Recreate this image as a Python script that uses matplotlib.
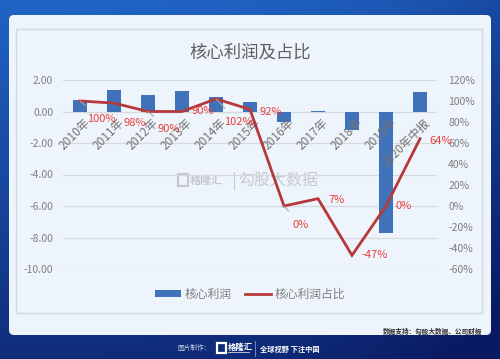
import matplotlib
matplotlib.use("Agg")
import matplotlib.pyplot as plt
import numpy as np
from matplotlib.patches import FancyBboxPatch, Rectangle

plt.rcParams['font.family'] = ['Noto Sans CJK SC', 'DejaVu Sans']

# data
years = ["2010年", "2011年", "2012年", "2013年", "2014年", "2015年",
         "2016年", "2017年", "2018年", "2019年", "2020年中报"]
profit = [0.74, 1.38, 1.06, 1.27, 0.89, 0.59, -0.68, 0.05, -1.20, -7.70, 1.23]
share = [100, 98, 90, 90, 102, 92, 0, 7, -47, 0, 64]
share_labels = ["100%", "98%", "90%", "90%", "102%", "92%", "0%", "7%", "-47%", "0%", "64%"]
# label offsets in pixels (dx right, dy down) and whether a leader line shows
offsets = [(21, 18), (21, 20), (21, 18), (21, 0), (22, 23), (21, 3),
           (17, 19), (19, 1), (23, 0), (18, 0), (21, 2)]
leaders = [True, False, True, False, True, False, True, False, False, False, False]

W, H = 500, 359
fig = plt.figure(figsize=(W / 100, H / 100), dpi=100)

# background + panel, drawn in pixel coordinates
bg = fig.add_axes([0, 0, 1, 1], zorder=-10)
bg.set_xlim(0, W)
bg.set_ylim(H, 0)
bg.axis("off")
yy, xx = np.mgrid[0:1:200j, 0:1:200j]
t = np.clip(0.75 * yy + 0.35 * xx ** 3, 0, 1)
c0 = np.array([0x20, 0x64, 0xc4]) / 255
c1 = np.array([0x0a, 0x1a, 0x62]) / 255
img = c0[None, None, :] * (1 - t[..., None]) + c1[None, None, :] * t[..., None]
bg.imshow(img, extent=(0, W, H, 0), aspect="auto", zorder=0)

bg.add_patch(FancyBboxPatch((9, 15), 482, 320, boxstyle="round,pad=0,rounding_size=5",
                            fc="#eef4fb", ec="none", zorder=1))
bg.add_patch(Rectangle((16, 29), 466, 284, fc="#eef4fb", ec="#d3d7de", lw=1, zorder=2))

bg.text(250, 52, "核心利润及占比", fontsize=12.5, color="#5f5f5f", ha="center", va="center", zorder=3)

# watermark
bg.add_patch(Rectangle((178, 174), 10, 12, fc="none", ec="#c5c9cf", lw=1.6, zorder=3))
bg.text(190, 180, "格隆汇", fontsize=8, color="#c5c9cf", ha="left", va="center", zorder=3, fontweight="bold")
bg.plot([234, 234], [172, 189], color="#c5c9cf", lw=0.8, zorder=3)
bg.text(238, 180, "勾股大数据", fontsize=11.5, color="#c5c9cf", ha="left", va="center", zorder=3)

bg.text(482, 331, "数据支持：勾股大数据、公司财报", fontsize=4.8, color="#333333",
        ha="right", va="center", fontweight="bold", zorder=3)

# footer
bg.text(211, 348, "图片制作：", fontsize=4.8, color="#c8cfe6", ha="right", va="center", zorder=3)
bg.add_patch(Rectangle((217, 343), 9, 10, fc="none", ec="white", lw=1.6, zorder=3))
bg.text(228, 347, "格隆汇", fontsize=6, color="white", ha="left", va="center", fontweight="bold", zorder=3)
bg.plot([228, 249], [352, 352], color="white", lw=0.5, zorder=3)
bg.plot([255, 255], [341, 356], color="#8a95c0", lw=0.6, zorder=3)
bg.text(260, 349, "全球视野 下注中国", fontsize=5.2, color="white", ha="left", va="center",
        fontweight="bold", zorder=3)

# chart
ax = fig.add_axes([63 / W, 1 - 269 / H, 374 / W, 189 / H])
ax.set_facecolor("none")
x = np.arange(len(years))
bars = ax.bar(x, profit, width=0.4, color="#3f72b8", label="核心利润", zorder=2)
ax.set_xlim(-0.5, len(years) - 0.5)
ax.set_ylim(-10, 2)
ax.set_yticks(np.arange(-10, 2.01, 2))
ax.set_yticklabels(["%.2f" % v for v in np.arange(-10, 2.01, 2)])
ax.yaxis.grid(True, color="#d6d9de", lw=0.9, zorder=0)
ax.set_axisbelow(True)
ax.set_xticks([])
ax.tick_params(axis="y", length=0, pad=7, labelsize=7.5, labelcolor="#7f7f7f")
for s in ax.spines.values():
    s.set_visible(False)

for i, name in enumerate(years):
    ax.text(i + 0.1, -0.3, name, rotation=45, rotation_mode="anchor", ha="right", va="top",
            fontsize=8.5, color="#737373", zorder=3)

ax2 = ax.twinx()
ax2.set_ylim(-60, 120)
ax2.set_yticks(np.arange(-60, 121, 20))
ax2.set_yticklabels(["%d%%" % v for v in np.arange(-60, 121, 20)])
ax2.tick_params(axis="y", length=0, pad=8, labelsize=7.5, labelcolor="#7f7f7f")
for s in ax2.spines.values():
    s.set_visible(False)
line, = ax2.plot(x, share, color="#b5383b", lw=2.0, label="核心利润占比", zorder=4,
                 solid_joinstyle="miter")

for i, (v, lab) in enumerate(zip(share, share_labels)):
    dx, dy = offsets[i]
    props = None
    if leaders[i]:
        props = dict(arrowstyle="-", color="#a6a6a6", lw=0.8, shrinkA=6, shrinkB=0)
    ax2.annotate(lab, xy=(i, v), xytext=(dx, -dy), textcoords="offset pixels",
                 ha="center", va="center", fontsize=8, color="#e8403d",
                 arrowprops=props, zorder=5)

fig.legend(handles=[bars, line], labels=["核心利润", "核心利润占比"], loc="center",
           bbox_to_anchor=(250 / W, 1 - 294 / H), ncol=2, frameon=False,
           fontsize=8.5, labelcolor="#7f7f7f", handlelength=2.2, handleheight=0.5,
           columnspacing=1.2, handletextpad=0.3)

fig.savefig("out.png", dpi=100)
